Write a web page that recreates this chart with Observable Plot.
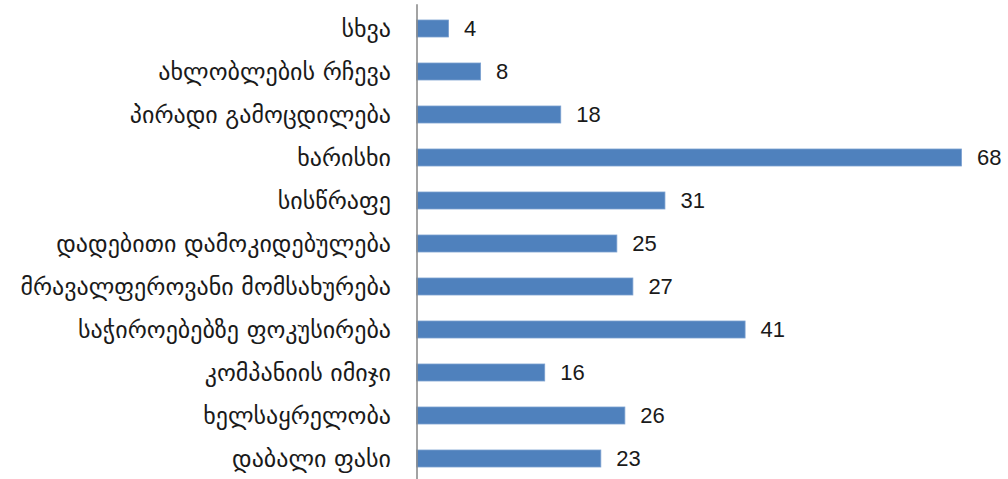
<!DOCTYPE html>
<html>
<head>
<meta charset="utf-8">
<script src="https://cdn.jsdelivr.net/npm/d3@7"></script>
<script src="https://cdn.jsdelivr.net/npm/@observablehq/plot@0.6"></script>
<style>
  html, body { margin: 0; padding: 0; background: #fff; }
  #chart svg { display: block; }
</style>
</head>
<body>
<div id="chart"></div>
<script>
const categories = [
  "სხვა",
  "ახლობლების რჩევა",
  "პირადი გამოცდილება",
  "ხარისხი",
  "სისწრაფე",
  "დადებითი დამოკიდებულება",
  "მრავალფეროვანი მომსახურება",
  "საჭიროებებზე ფოკუსირება",
  "კომპანიის იმიჯი",
  "ხელსაყრელობა",
  "დაბალი ფასი"
];
const values = [4, 8, 18, 68, 31, 25, 27, 41, 16, 26, 23];

const data = categories.map((c, i) => ({category: c, value: values[i]}));

const chart = Plot.plot({
  width: 1008,
  height: 479,
  marginLeft: 416.5,
  marginRight: 30.5,
  marginTop: 4.3,
  marginBottom: -3.3,
  style: {background: "#fff", overflow: "visible"},
  x: {domain: [0, 70], axis: null},
  y: {domain: categories, paddingInner: 0.6, paddingOuter: 0.3, label: null},
  marks: [
    Plot.barX(data, {x: "value", y: "category", fill: "#4f81bd", stroke: "#7ba0d0", strokeWidth: 0.8}),
    Plot.ruleX([0], {stroke: "#8c8c8c", strokeWidth: 1.6}),
    Plot.text(data, {x: "value", y: "category", text: d => String(d.value), textAnchor: "start", dx: 15, fontSize: 22, fontFamily: "Liberation Sans, Arial, sans-serif", fill: "#1a1a1a"}),
    Plot.axisY({tickSize: 0, tickPadding: 26, fontSize: 24, fontFamily: "DejaVu Sans, sans-serif", fill: "#1a1a1a", label: null})
  ]
});
document.getElementById("chart").appendChild(chart);
</script>
</body>
</html>
